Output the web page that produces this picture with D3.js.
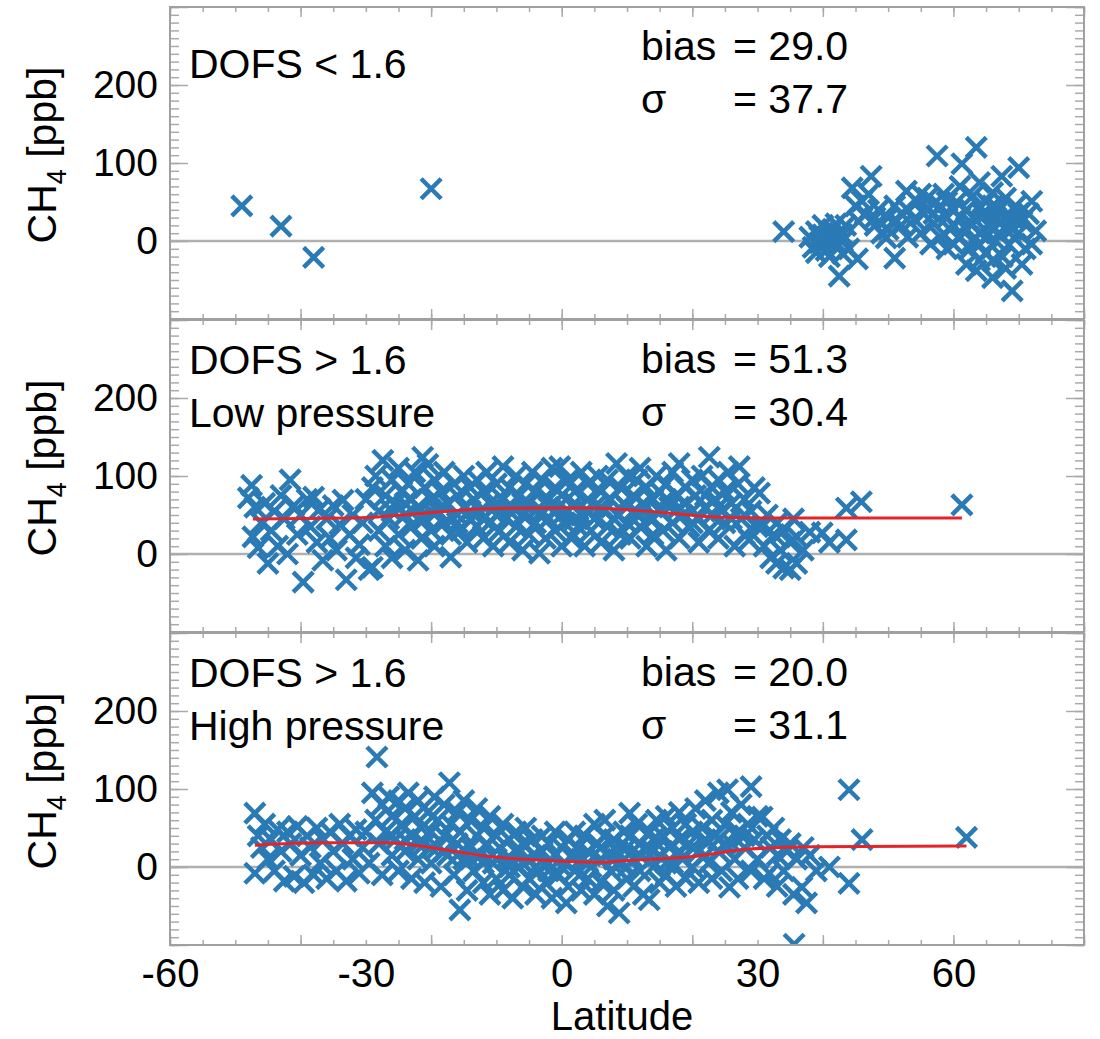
<!DOCTYPE html>
<html lang="en">
<head>
<meta charset="utf-8">
<title>CH4 differences vs latitude</title>
<script src="https://d3js.org/d3.v7.min.js"></script>
<style>
  body { margin: 0; background: #fff; }
  svg { font-family: Arial, "Liberation Sans", sans-serif; }
  .tick line { stroke: #aaa; stroke-width: 1.5; }
  .domain { display: none; }
</style>
</head>
<body>
<svg id="chart" width="1100" height="1039"></svg>
<script>
// ---- data: [latitude, CH4 difference in ppb] ----
var dofsLowPts = [
  [-49,45],[-43,19],[-38,-21],[-20,67],
  [34,12],[38,5],[38.5,-8],[39,12],[39.5,-2],[40,8],[40.5,-12],[41,3],[41.5,15],[42,-5],
  [42.5,10],[43,0],[43.5,20],[44,-10],[39,-15],[40,20],[41,-20],[42,22],[43,-16],
  [42.5,-45],[45.3,-23],[47.4,83],[44.5,68],[46,51],[45,45],[46.5,35],[47,60],[45.5,25],
  [48,20],[48.5,40],[49,10],[49.7,4],[51,-22],[50,30],[51,45],[52,20],[52.8,64],[53,40],
  [54,28],[54.5,50],[55,10],[55.5,35],[56,55],[56.5,-4],[57,22],[57.5,109],[58,45],
  [58.5,60],[59,30],[59.5,15],[60,-4],[60.5,50],[61,70],[61.3,99],[62,-30],[62,40],
  [62.5,25],[63,58],[63.5,120],[63.5,-38],[64,10],[64,75],[64.5,35],[65,-15],[65,50],
  [65.5,20],[66,-47],[66,62],[66.5,0],[66.5,30],[67,40],[67.4,83],[67.5,-20],[68,15],
  [68,55],[68.5,-5],[69,-64],[69,30],[69.5,45],[70,94],[70,10],[70.5,-30],[70.5,25],
  [71,-10],[71.5,35],[72,51],[72,-4],[72.6,13],[62.5,-10],[64,-25],[66,-25],[68,-35],
  [60,20],[58,5],[55,60],[50,15],[53,5],[57,35],[59,50],[61,30],[63,0],[65,5],[67,10],
  [40,0],[41,10],[42,-2],[39.5,6],[43,8],[48,30],[52,35],[56,40],[60,40],[62,15],[64,45],
  [66,15],[68,30],[70,35],[63,30],[65,35],[67,25],[69,15],[61,5],[59,-10],[64,-5],[66,45]
];
var lowPressurePts = [
  [-48,72],[-47.5,88],[-47,60],[-47.3,22],[-46.5,8],[-46,40],[-45,-12],[-45.5,65],[-44.5,30],
  [-44,55],[-43.5,10],[-43,75],[-42.5,45],[-42,0],[-41.6,95],[-41,62],[-40.5,25],[-40,50],
  [-39.6,-36],[-39,70],[-38.5,35],[-38,73],[-37.5,15],[-37,58],[-36.6,-8],[-36,45],[-35.5,20],
  [-35,62],[-34.5,5],[-34,38],[-33.5,69],[-33,-33],[-32.5,25],[-32,50],[-31.5,-5],[-31,12],
  [-30.5,40],[-30,70],[-29.5,-20],
  [-29,-17],[-29,85],[-28.5,100],[-28,55],[-28,30],[-27.4,120],[-27,75],[-27,10],[-26.5,45],
  [-26,95],[-26,-5],[-25.5,65],[-25,25],[-25,110],[-24.5,80],[-24,50],[-24,5],[-23.5,90],
  [-23,35],[-23,70],[-22.5,105],[-22,-8],[-22,60],[-21.5,20],[-21.3,124],[-21,85],[-21,45],
  [-20.5,115],[-20,30],[-20,70],[-19.5,10],[-19.5,95],
  [-19,55],[-18.5,80],[-18,40],[-18,105],[-17.5,65],[-17,-4],[-17,25],[-16.5,90],[-16,50],
  [-16,75],[-15.5,30],[-15,100],[-15,60],[-14.5,15],[-14,85],[-14,45],[-13.5,70],[-13,35],
  [-13,95],[-12.5,55],[-12,20],[-12,80],[-11.5,105],[-11,40],[-11,65],[-10.5,10],[-10,90],[-10,50],
  [-9.5,30],[-9,112],[-9,70],[-8.5,45],[-8,85],[-8,15],[-7.5,60],[-7,100],[-7,35],[-6.5,75],
  [-6,50],[-6,5],[-5.5,90],[-5,25],[-5,65],[-4.5,105],[-4,40],[-4,80],[-3.4,1],[-3,55],[-3,95],
  [-2.5,20],[-2,70],[-2,45],[-1.5,110],[-1,30],[-1,85],[-0.5,60],[-0.3,112],[0,10],[0,75],
  [0.5,40],[1,95],[1,55],[1.5,20],[2,80],[2,65],[2.5,35],[3,105],[3,50],[3.5,10],[4,70],[4,90],
  [4.5,30],[5,60],[5,45],[5.5,100],[6,15],[6,80],[6.5,55],[7,35],[7,95],[7.5,70],[8,5],[8.4,116],
  [8.5,50],[9,85],[9,25],[9.5,65],[10,40],[10,100],
  [10.5,20],[11,75],[11,55],[11.5,95],[12,35],[12,110],[12.5,65],[13,10],[13,85],[13.5,45],
  [14,70],[14,25],[14.5,100],[15,55],[15,80],[15.5,30],[16,90],[16,5],[16.5,60],[17,40],
  [17,105],[17.5,75],[18,116],[18,20],[18.5,50],[19,85],[19,65],[19.5,35],[20,95],[20,55],
  [20.5,75],[21,15],[21,45],[21.5,100],[22,60],[22.6,124],[22.5,30],[23,85],[23,50],[23.5,70],
  [24,95],[24,20],[24.5,55],[25,80],[25,40],[25.5,105],[26,65],[26.5,10],[27,90],[27.2,112],
  [27.5,45],[28,70],[28,25],[28.7,18],[29,55],[29.5,85],[30,35],[30.3,78],[30.7,35],
  [31,10],[31.5,50],[32,-5],[32.5,25],[32.9,-12],[33,40],[33.5,5],[34,-18],[34,30],[35,-20],
  [35,15],[35.5,45],[36,-12],[36,22],[37,5],[38,28],[39.9,27],[41,15],[43.6,18],[43.6,59],
  [45.9,67],[61.3,63],
  [-26,55],[-24,65],[-22,45],[-20,55],[-18,60],[-16,40],[-14,55],[-12,45],[-10,65],[-8,55],
  [-6,65],[-4,55],[-2,60],[0,50],[2,45],[4,55],[6,60],[8,45],[10,60],[12,50],[14,45],
  [16,70],[18,60],[20,40],[22,75],[24,60],[26,45],[28,50]
];
var highPressurePts = [
  [-47,69],[-47,-8],[-46.5,40],[-46,25],[-45.5,55],[-45,10],[-44.5,35],[-44,-5],[-43.5,48],
  [-43,20],[-42.5,-18],[-42,45],[-41.5,30],[-41,-12],[-40.5,52],[-40,15],[-39.5,-20],[-39,40],
  [-38.5,25],[-38,-10],[-37.5,50],[-37,5],[-36.5,35],[-36,-15],[-35.5,45],[-35,20],[-34.5,-5],
  [-34,55],[-33.5,30],[-33,-18],[-32.5,40],[-32,10],[-31.5,48],[-31,-8],[-30.5,25],[-30,45],
  [-29,95],[-28.3,141],[-29.5,5],[-28.5,60],[-28,30],[-27.5,80],[-27.5,-10],[-27,45],[-26.5,90],
  [-26,15],[-26,65],[-25.5,35],[-25,85],[-25,-5],[-24.5,55],[-24,75],[-24,20],[-23.5,95],
  [-23,40],[-23,-15],[-22.5,65],[-22,10],[-22,85],[-21.5,50],[-21,30],[-21,-20],[-20.5,70],
  [-20,45],[-20,5],[-19.5,90],[-19,25],[-19,60],[-18.5,-25],[-18,40],[-18,80],[-17.2,108],
  [-17.5,15],[-17,55],[-16.5,-10],[-16,30],[-16,70],[-15.6,-55],[-15.5,45],[-15,10],[-15,85],
  [-14.5,-30],[-14,60],[-14,25],[-13.5,-5],[-13,40],[-13,75],[-12.5,15],[-12,-20],[-12,50],
  [-11.5,30],[-11,-35],[-11,65],[-10.5,5],[-10,40],[-10,-15],
  [-9.5,25],[-9,-30],[-9,55],[-8.5,10],[-8,35],[-8,-10],[-7.5,-40],[-7,20],[-7,45],[-6.5,0],
  [-6,-25],[-6,30],[-5.5,50],[-5,10],[-5,-15],[-4.5,35],[-4,-35],[-4,15],[-3.5,-5],[-3,40],
  [-3,20],[-2.5,-20],[-2,5],[-2,30],[-1.5,-40],[-1,15],[-1,45],[-0.5,-10],[0,25],[0.7,-46],
  [0.5,5],[1,35],[1,-25],[1.5,15],[2,-5],[2,45],[2.5,25],[3,-30],[3,10],[3.5,40],[4,-15],
  [4,20],[4.5,0],[5,55],[5,-35],[5.5,30],[6,10],[6.6,60],[6,-20],[6.5,40],[7,-50],[7,15],
  [7.5,-5],[8,35],[8,-30],[8.8,-59],[8.5,20],[9,5],[9.5,45],[10.4,69],[10,-15],[10,25],
  [10.5,40],[11,-25],[11,10],[11.5,55],[12,-5],[12,30],[12.5,-35],[13,20],[13.4,-42],[13.5,45],
  [14,0],[14,35],[14.5,60],[15,-20],[15,15],[15.5,40],[16,-10],[16,65],[16.5,25],[17,5],
  [17,50],[17.5,-25],[18,35],[18,70],[18.5,10],[19,55],[19,-15],[19.5,30],[20,45],[20,0],
  [20.5,75],[21,20],[21,-20],[21.5,50],[22,35],[22,85],[22.5,5],[23,60],[23,-15],[23.5,40],
  [24,20],[24,95],[24.5,-5],[25,55],[25.4,99],[25.7,-26],[25,30],[26,70],[26.5,10],[27,45],
  [27,-15],[27.5,80],[28,25],[28.5,55],[29,103],[29,-5],[29.5,35],[30,65],[30,10],
  [30.7,64],[31,-15],[31.5,40],[31.8,-8],[32,25],[32.5,50],[33,-25],[33,15],[33.5,35],[34,-5],
  [34.5,20],[35,30],[35.6,-99],[35.5,-35],[36,10],[36.8,-26],[37,25],[37.5,-46],[38,15],
  [39,-5],[41,0],[44,99],[44,-21],[46,35],[62,38],
  [-26,40],[-24,35],[-22,30],[-20,25],[-18,20],[-16,15],[-14,10],[-12,5],[-10,10],
  [-8,0],[-6,5],[-4,0],[-2,-5],[0,0],[2,15],[4,5],[6,25],[8,10],[10,0],[12,15],[14,20],
  [16,5],[18,20],[20,25],[22,15],[24,35],[26,30],[28,40]
];
// red fitted curves
var lowPressureFit = [[-47.3,45],[-32,46],[-21.7,52],[-11.5,58],[-1.4,59],[4.3,59],[14.5,54],
  [24.6,47],[34.9,46],[61.3,46]];
var highPressureFit = [[-47,28],[-37,31],[-26.8,31],[-21.7,27],[-15.6,19],[-10.6,13],[-1.4,8],
  [5.8,6],[9.3,8],[19.6,13],[28.7,23],[38.4,26],[62,27]];

var panelTitles = [["DOFS < 1.6"], ["DOFS > 1.6", "Low pressure"], ["DOFS > 1.6", "High pressure"]];
var biasValues = ["29.0", "51.3", "20.0"];
var sigmaValues = ["37.7", "30.4", "31.1"];
var xTickLabels = [-60, -30, 0, 30, 60];
var yTickLabels = [0, 100, 200];

var panels = [
  {pts: dofsLowPts, fit: null},
  {pts: lowPressurePts, fit: lowPressureFit},
  {pts: highPressurePts, fit: highPressureFit}
];

var svg = d3.select("#chart");
var x = d3.scaleLinear().domain([-60, 80]).range([170, 1084]);
var panelTops = [7, 320, 633], panelH = 312;
var blue = "#2a7ab6";
var fontBig = 41;

panels.forEach(function(p, i) {
  var top = panelTops[i], bottom = top + panelH;
  var y = d3.scaleLinear().domain([-100, 300]).range([bottom, top]);
  var g = svg.append("g");

  g.append("clipPath").attr("id", "clip" + i)
    .append("rect").attr("x", 170).attr("y", top).attr("width", 914).attr("height", panelH);

  // zero line
  g.append("line").attr("x1", 170).attr("x2", 1084).attr("y1", y(0)).attr("y2", y(0))
    .attr("stroke", "#b0b0b0").attr("stroke-width", 2.5);

  // ticks, all pointing inward
  var yMinor = d3.range(-100, 301, 10), yMajor = d3.range(-100, 301, 100);
  var xMinor = d3.range(-60, 81, 5), xMajor = d3.range(-60, 81, 20);
  g.append("g").attr("transform", "translate(170,0)")
    .call(d3.axisLeft(y).tickValues(yMinor).tickSize(-9).tickFormat(""));
  g.append("g").attr("transform", "translate(170,0)")
    .call(d3.axisLeft(y).tickValues(yMajor).tickSize(-18).tickFormat(""));
  g.append("g").attr("transform", "translate(1084,0)")
    .call(d3.axisRight(y).tickValues(yMinor).tickSize(-9).tickFormat(""));
  g.append("g").attr("transform", "translate(1084,0)")
    .call(d3.axisRight(y).tickValues(yMajor).tickSize(-18).tickFormat(""));
  g.append("g").attr("transform", "translate(0," + top + ")")
    .call(d3.axisTop(x).tickValues(xMinor).tickSize(-5).tickFormat(""));
  g.append("g").attr("transform", "translate(0," + top + ")")
    .call(d3.axisTop(x).tickValues(xMajor).tickSize(-10).tickFormat(""));
  g.append("g").attr("transform", "translate(0," + bottom + ")")
    .call(d3.axisBottom(x).tickValues(xMinor).tickSize(-5).tickFormat(""));
  g.append("g").attr("transform", "translate(0," + bottom + ")")
    .call(d3.axisBottom(x).tickValues(xMajor).tickSize(-10).tickFormat(""));

  // y tick labels
  var yl = g.append("g").attr("transform", "translate(170,0)")
    .call(d3.axisLeft(y).tickValues(yTickLabels).tickSize(0).tickPadding(12)
      .tickFormat(function(d) { return String(d); }));
  yl.selectAll("text").attr("font-size", 39).attr("fill", "#000")
    .attr("font-family", "Arial, 'Liberation Sans', sans-serif");

  // points
  g.append("g").attr("clip-path", "url(#clip" + i + ")")
    .selectAll("path.pt").data(p.pts).enter().append("path")
    .attr("class", "pt")
    .attr("d", "M-10,-10L10,10M-10,10L10,-10")
    .attr("transform", function(d) { return "translate(" + x(d[0]) + "," + y(d[1]) + ")"; })
    .attr("stroke", blue).attr("stroke-width", 4.5).attr("fill", "none");

  // fit curve
  if (p.fit) {
    var line = d3.line().x(function(d) { return x(d[0]); }).y(function(d) { return y(d[1]); })
      .curve(d3.curveMonotoneX);
    g.append("path").datum(p.fit).attr("d", line)
      .attr("fill", "none").attr("stroke", "#e5242a").attr("stroke-width", 3);
  }

  // frame
  g.append("rect").attr("x", 170).attr("y", top).attr("width", 914).attr("height", panelH)
    .attr("fill", "none").attr("stroke", "#a0a0a0").attr("stroke-width", 2);

  // annotations
  panelTitles[i].forEach(function(t, k) {
    g.append("text").attr("x", 189).attr("y", top + (i === 0 ? 71 : 54) + k * 53)
      .attr("font-size", fontBig).text(t);
  });
  [["bias", biasValues[i]], ["\u03c3", sigmaValues[i]]].forEach(function(r, k) {
    var by = top + 53 + k * 53;
    g.append("text").attr("x", 641).attr("y", by).attr("font-size", fontBig).text(r[0]);
    g.append("text").attr("x", 733).attr("y", by).attr("font-size", fontBig).text("= " + r[1]);
  });

  // y label
  var lab = g.append("text")
    .attr("transform", "translate(56," + (top + panelH / 2 - 8) + ") rotate(-90)")
    .attr("text-anchor", "middle").attr("font-size", 41);
  lab.append("tspan").text("CH");
  lab.append("tspan").attr("font-size", 27).attr("dy", 10).text("4");
  lab.append("tspan").attr("dy", -10).text(" [ppb]");
});

// x tick labels and title
var bottomY = panelTops[2] + panelH;
var xl = svg.append("g").attr("transform", "translate(0," + bottomY + ")")
  .call(d3.axisBottom(x).tickValues(xTickLabels).tickSize(0).tickPadding(14)
    .tickFormat(function(d) { return String(d); }));
xl.selectAll("text").attr("font-size", 40).attr("fill", "#000")
  .attr("font-family", "Arial, 'Liberation Sans', sans-serif");
svg.append("text").attr("x", 622).attr("y", 1030).attr("text-anchor", "middle")
  .attr("font-size", 40).text("Latitude");
</script>
</body>
</html>
